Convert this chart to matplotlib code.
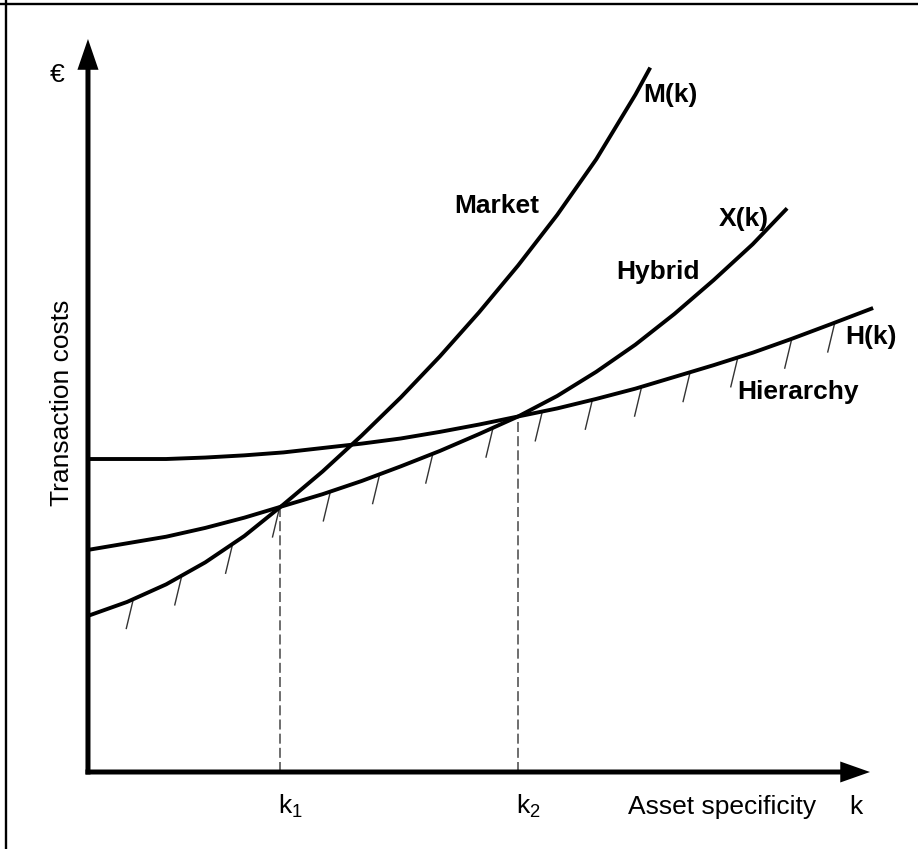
import numpy as np
import matplotlib.pyplot as plt
from matplotlib.lines import Line2D

plt.rcParams['font.family'] = ['Liberation Sans', 'DejaVu Sans']
plt.rcParams['mathtext.default'] = 'regular'

# curves (k = asset specificity, cost = transaction costs)
market_k = [0, 0.5, 1, 1.5, 2, 2.5, 3, 3.5, 4, 4.5, 5, 5.5, 6, 6.5, 7, 7.19]
market_cost = [2.13, 2.32, 2.56, 2.86, 3.22, 3.65, 4.10, 4.59, 5.11, 5.67,
               6.27, 6.91, 7.60, 8.36, 9.24, 9.61]

hybrid_k = [0, 0.5, 1, 1.5, 2, 2.5, 3, 3.5, 4, 4.5, 5, 5.5, 6, 6.5, 7, 7.5,
            8, 8.5, 8.94]
hybrid_cost = [3.03, 3.12, 3.21, 3.33, 3.47, 3.63, 3.79, 3.97, 4.17, 4.38,
               4.61, 4.85, 5.13, 5.46, 5.83, 6.25, 6.71, 7.20, 7.69]

hierarchy_k = [0, 0.5, 1, 1.5, 2, 2.5, 3, 3.5, 4, 4.5, 5, 5.5, 6, 6.5, 7,
               7.5, 8, 8.5, 9, 9.5, 10.04]
hierarchy_cost = [4.27, 4.27, 4.27, 4.29, 4.32, 4.36, 4.42, 4.48, 4.55, 4.64,
                  4.74, 4.85, 4.96, 5.09, 5.23, 5.39, 5.55, 5.72, 5.91, 6.11,
                  6.33]

# thresholds and hatch marks along the lower envelope
k_marks = [2.46, 5.5]
k_labels = ['k$_1$', 'k$_2$']
hatch_k = [0.58, 1.2, 1.85, 2.45, 3.1, 3.73, 4.41, 5.18, 5.81, 6.45, 7.08,
           7.7, 8.31, 9.0, 9.55]

fig = plt.figure(figsize=(9.18, 8.49), dpi=100)
ax = fig.add_axes([0, 0, 1, 1])
ax.set_xlim(-1.125, 10.614)
ax.set_ylim(-1.0505, 10.532)
ax.axis('off')

# axes with arrow heads
ax.arrow(-0.032, 0, 10.032, 0, width=0.068, head_width=0.286, head_length=0.38,
         length_includes_head=True, fc='black', ec='none', zorder=5)
ax.arrow(0, -0.034, 0, 10.034, width=0.064, head_width=0.27, head_length=0.42,
         length_includes_head=True, fc='black', ec='none', zorder=5)

lw = 2.8
ax.plot(market_k, market_cost, color='black', lw=lw, solid_capstyle='butt', zorder=4)
ax.plot(hybrid_k, hybrid_cost, color='black', lw=lw, solid_capstyle='butt', zorder=4)
ax.plot(hierarchy_k, hierarchy_cost, color='black', lw=lw, solid_capstyle='butt', zorder=4)

# hatches under the minimum cost curve
for hk in hatch_k:
    env = min(np.interp(hk, market_k, market_cost),
              np.interp(hk, hybrid_k, hybrid_cost),
              np.interp(hk, hierarchy_k, hierarchy_cost))
    ax.plot([hk, hk - 0.09], [env, env - 0.40], color='#333333', lw=1.0, zorder=3)

# dashed drop lines and k labels
for km, lab in zip(k_marks, k_labels):
    top = np.interp(km, hybrid_k, hybrid_cost)
    ax.plot([km, km], [0, top], color='#555555', lw=1.2, dashes=(6, 2.5), zorder=2)
    ax.text(km - 0.03, -0.573, lab, fontsize=19, ha='left', va='baseline')

ax.text(6.91, -0.573, 'Asset specificity', fontsize=19, ha='left', va='baseline')
ax.text(9.73, -0.573, 'k', fontsize=19, ha='left', va='baseline')
ax.text(-0.33, 5.03, 'Transaction costs', fontsize=19, rotation=90,
        ha='center', va='center')
ax.text(-0.40, 9.41, '€', fontsize=19, ha='center', va='baseline')

bold = dict(fontsize=19, fontweight='bold', ha='left', va='baseline')
ax.text(7.10, 9.14, 'M(k)', **bold)
ax.text(4.69, 7.63, 'Market', **bold)
ax.text(8.06, 7.45, 'X(k)', **bold)
ax.text(6.76, 6.73, 'Hybrid', **bold)
ax.text(9.68, 5.84, 'H(k)', **bold)
ax.text(8.30, 5.09, 'Hierarchy', **bold)

# frame lines at top and left of the image
fig.add_artist(Line2D([0.00675, 0.00675], [0, 1], transform=fig.transFigure,
                      color='black', lw=1.7))
fig.add_artist(Line2D([0, 1], [0.9955, 0.9955], transform=fig.transFigure,
                      color='black', lw=1.7))

fig.savefig('out.png', dpi=100)
